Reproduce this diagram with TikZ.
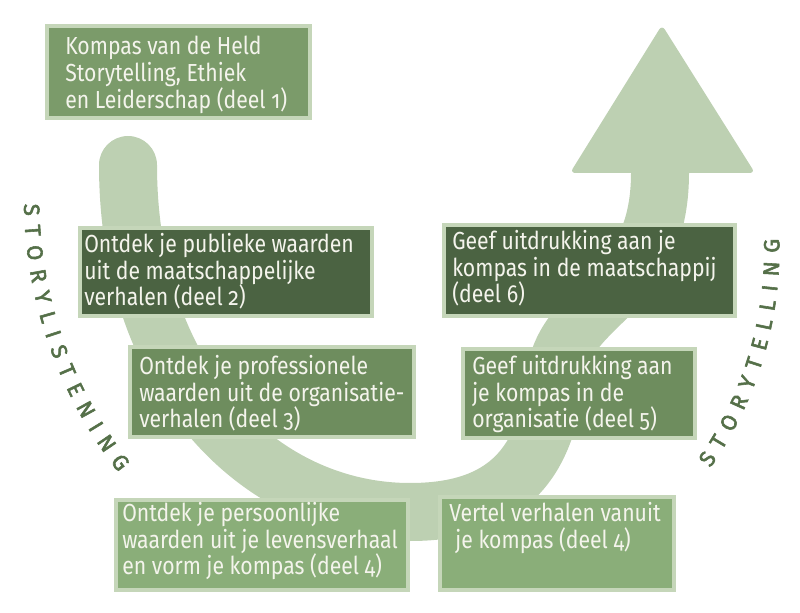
\documentclass[tikz,border=0pt]{standalone}
\usepackage{fontspec}
\setmainfont{Fira Sans}[Numbers=OldStyle, FakeStretch=0.86]
\newfontfamily\sidefont{Fira Sans}[FakeBold=2.5]
\usetikzlibrary{fit,decorations.text}
\definecolor{bandc}{HTML}{BDD0B2}
\definecolor{framec}{HTML}{C5D6B9}
\definecolor{boxone}{HTML}{7B9B6A}
\definecolor{boxdark}{HTML}{4B6342}
\definecolor{boxmid}{HTML}{6E8D5E}
\definecolor{boxlight}{HTML}{8AAE79}
\definecolor{txtc}{HTML}{F4F4EC}
\definecolor{sidec}{HTML}{557049}
\newcommand\sidestyle{\sidefont\fontsize{16.5}{17}\selectfont}
\tikzset{
  framebox/.style={draw=framec, line width=3pt, inner sep=0pt},
  lbl/.style={text=txtc, align=left, inner sep=0pt, anchor=north west,
    font=\fontsize{18.5}{20}\selectfont},
  sidetext/.style={font=\sidestyle, decorate, decoration={text along path,
    text align={fit to path}, text={|\sidestyle\color{sidec}|#1}}},
}
\begin{document}
\begin{tikzpicture}[x=0.75pt,y=-0.75pt]
\useasboundingbox (0,0) rectangle (800,613);
% band
\draw[bandc, line width=43.5pt, line cap=round]
  (128,165) .. controls (128,380) and (260,512) .. (410,512)
  .. controls (500,512) and (545,470) .. (555,380)
  .. controls (562,300) and (660,300) .. (660,173);
\fill[bandc, rounded corners=4pt] (570,173) -- (662,25) -- (755,173) -- cycle;
% boxes
\node[framebox, fill=boxone, fit={(47,26.5)(310,118.5)}] (b1) {};
\node[framebox, fill=boxdark, fit={(80,228.5)(372,316)}] (b2) {};
\node[framebox, fill=boxdark, fit={(443.5,225)(734.5,316)}] (b7) {};
\node[framebox, fill=boxmid, fit={(129.5,346.5)(414,437)}] (b3) {};
\node[framebox, fill=boxmid, fit={(462.5,348.5)(695,437.5)}] (b6) {};
\node[framebox, fill=boxlight, fit={(115.5,500)(407.5,589.5)}] (b4) {};
\node[framebox, fill=boxlight, fit={(439.5,497)(674,589.5)}] (b5) {};
% texts
\node[lbl] (t1) at (65,36) {Kompas van de Held\\Storytelling, Ethiek\\en Leiderschap (deel 1)};
\node[lbl] (t2) at (84,233) {Ontdek je publieke waarden\\uit de maatschappelijke\\verhalen (deel 2)};
\node[lbl] (t7) at (452,230) {Geef uitdrukking aan je\\kompas in de maatschappij\\(deel 6)};
\node[lbl] (t3) at (139,355) {Ontdek je professionele\\waarden uit de organisatie-\\verhalen (deel 3)};
\node[lbl] (t6) at (472,355) {Geef uitdrukking aan\\je kompas in de\\organisatie (deel 5)};
\node[lbl] (t4) at (122,502) {Ontdek je persoonlijke\\waarden uit je levensverhaal\\en vorm je kompas (deel 4)};
\node[lbl] (t5) at (449,502) {Vertel verhalen vanuit\\\hspace*{0.25em}je kompas (deel 4)};
% side texts
\path[sidetext=STORYLISTENING]
  (24,204) arc[start angle=179.2, end angle=142, radius=446];
\path[sidetext=STORYTELLING]
  (710.3,468) arc[start angle=35, end angle=-1.5, radius=382];
\end{tikzpicture}
\end{document}
